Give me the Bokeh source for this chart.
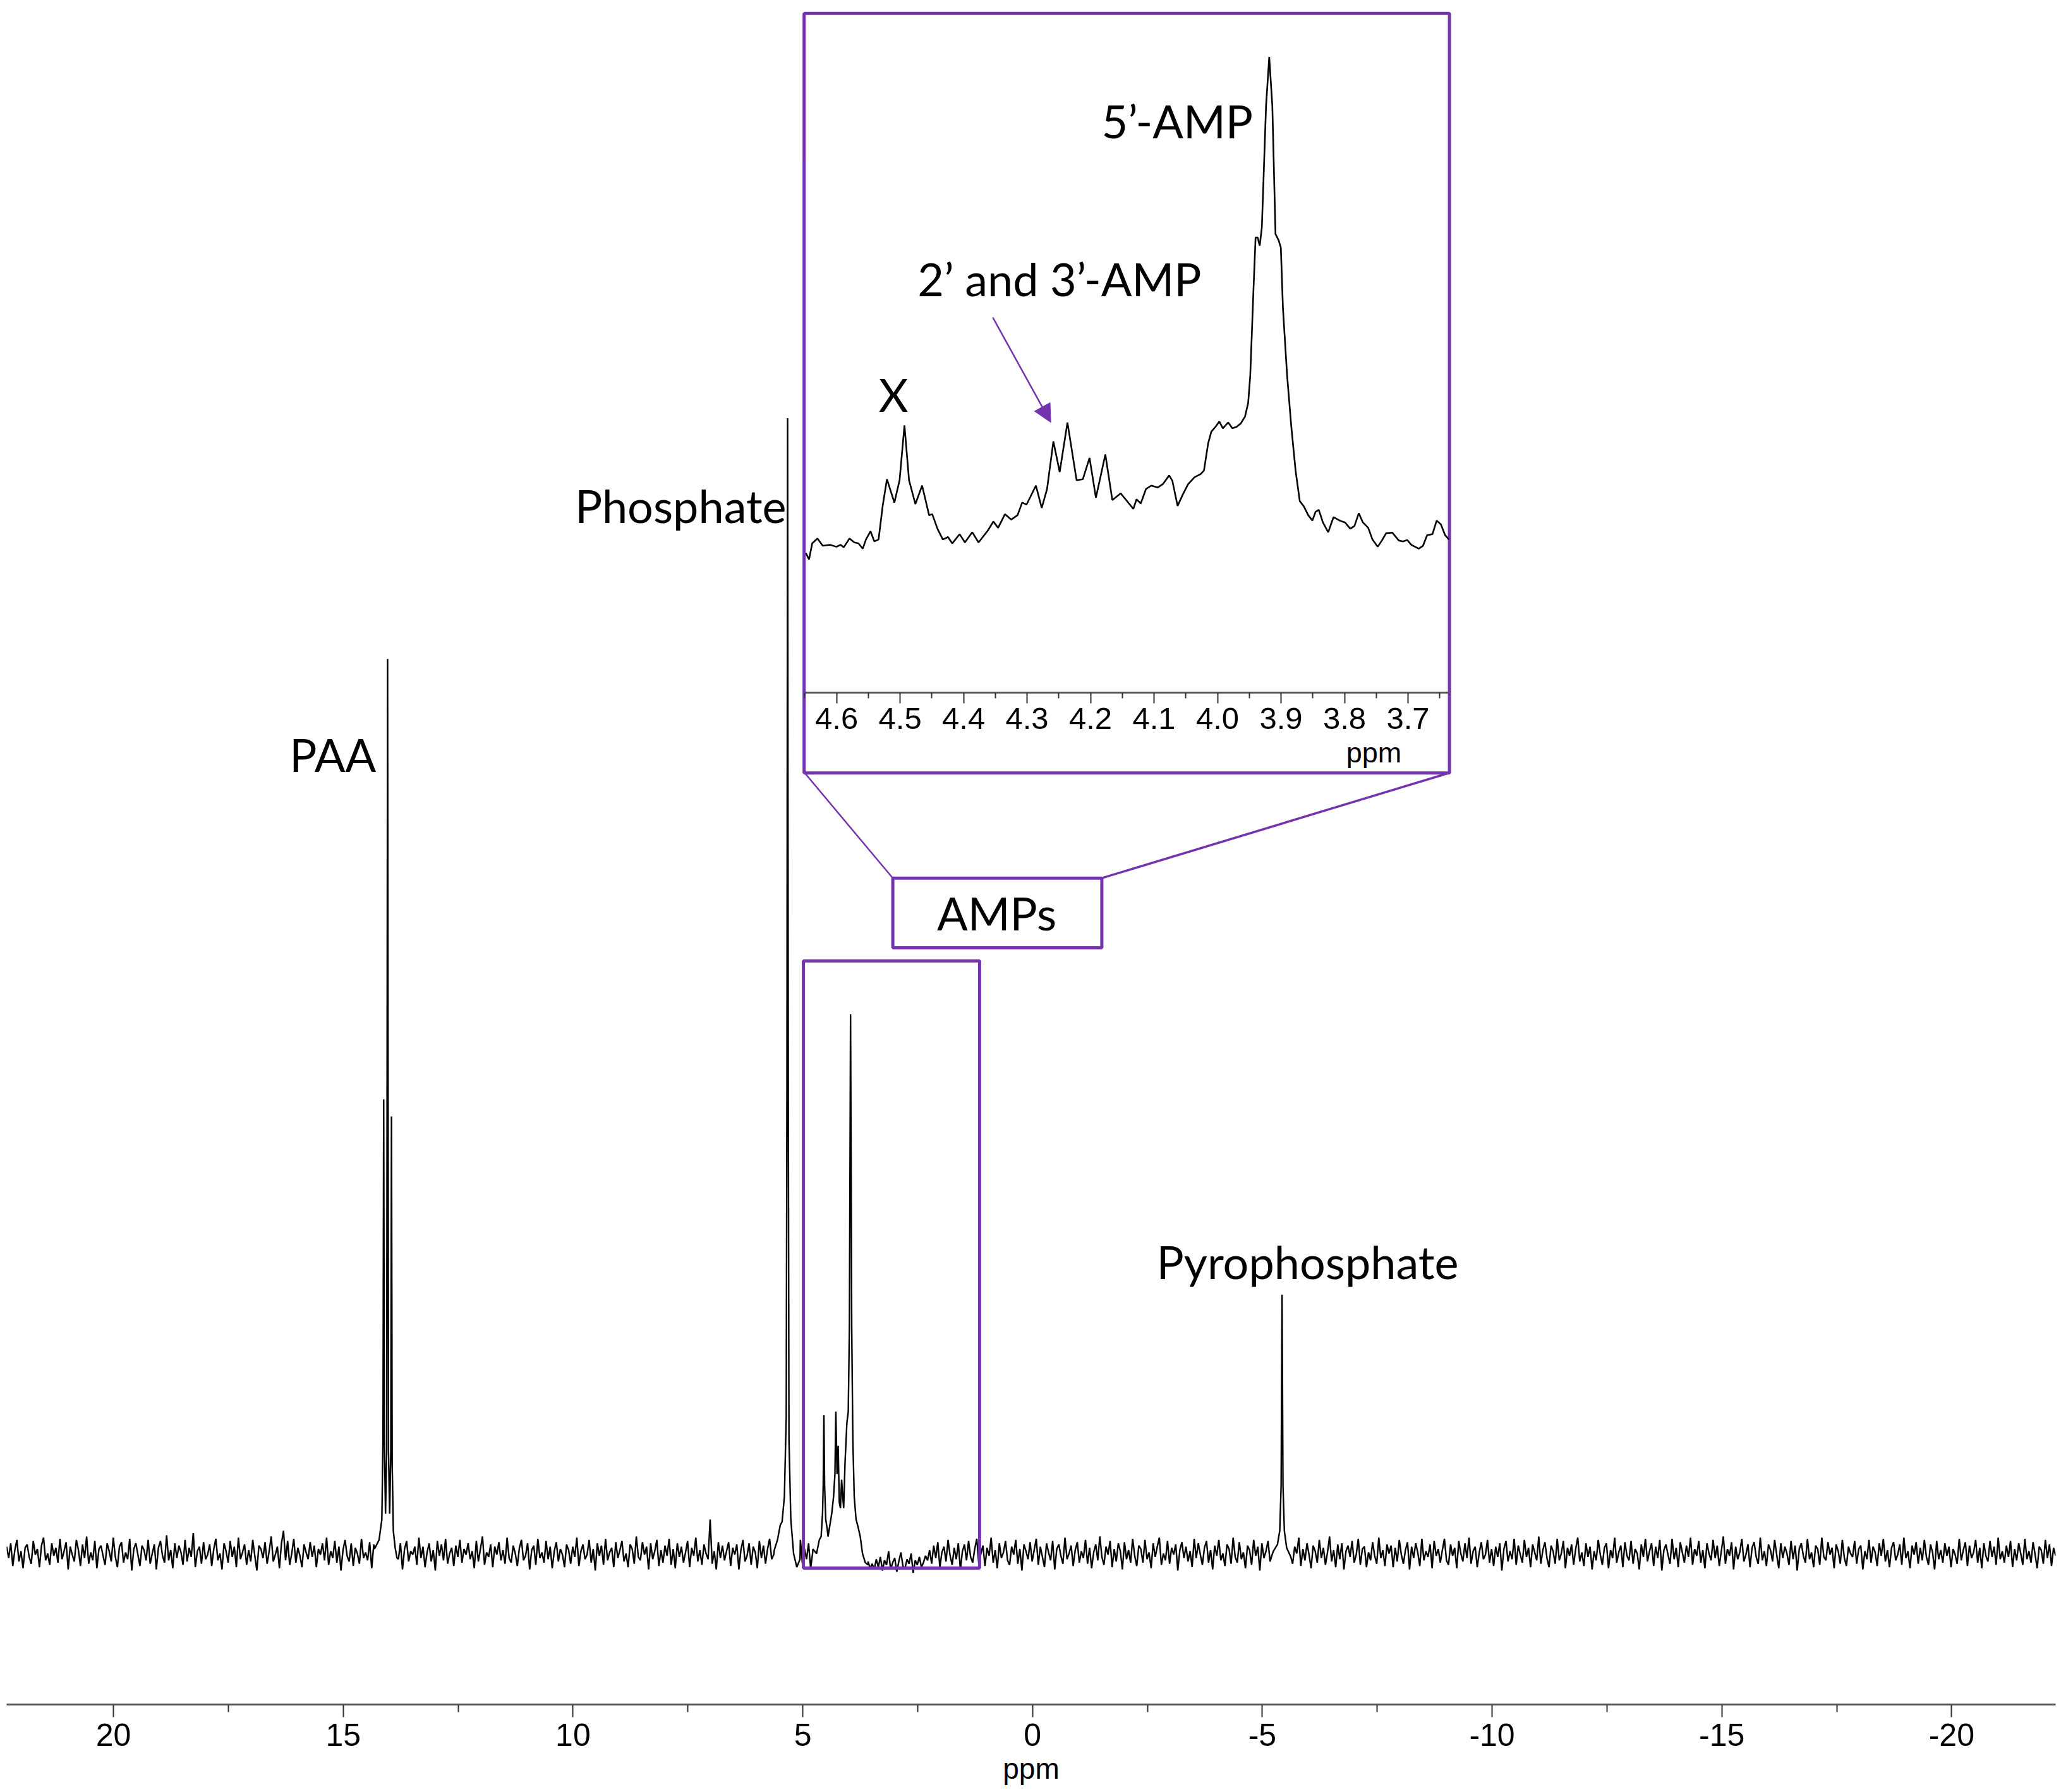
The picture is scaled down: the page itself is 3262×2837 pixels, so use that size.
import numpy as np
from bokeh.plotting import figure
from bokeh.models import (Range1d, LinearAxis, FixedTicker, PrintfTickFormatter,
                          Label, Arrow, NormalHead)
from bokeh.embed import file_html
from bokeh.resources import INLINE

# ------------------------------------------------------------------ data
main_ticks = [20, 15, 10, 5, 0, -5, -10, -15, -20]
main_minor_ticks = [17.5, 12.5, 7.5, 2.5, -2.5, -7.5, -12.5, -17.5]
inset_ticks = [4.6, 4.5, 4.4, 4.3, 4.2, 4.1, 4.0, 3.9, 3.8, 3.7]
inset_minor_ticks = [4.65, 4.55, 4.45, 4.35, 4.25, 4.15, 4.05, 3.95, 3.85, 3.75, 3.65]

# main spectrum: resolved peaks (ppm, intensity relative to phosphate = 1)
paa_ppm = [14.32, 14.22, 14.16, 14.135, 14.12, 14.105, 14.08, 14.055, 14.035, 14.015,
           13.99, 13.965, 13.95, 13.935, 13.91, 13.87, 13.83]
paa_int = [0.004, 0.012, 0.03, 0.10, 0.40, 0.10, 0.035, 0.09, 0.788, 0.09,
           0.035, 0.09, 0.385, 0.08, 0.02, 0.005, -0.004]

phos_ppm = [5.62, 5.55, 5.49, 5.45, 5.40, 5.36, 5.345, 5.33, 5.315, 5.30, 5.26, 5.20, 5.13, 5.06]
phos_int = [0.003, 0.012, 0.025, 0.028, 0.05, 0.12, 0.40, 1.0, 0.40, 0.10, 0.03, 0.0, -0.012, -0.005]

amp_ppm = [4.78, 4.70, 4.64, 4.60, 4.57, 4.555, 4.54, 4.525, 4.50, 4.47, 4.45, 4.41, 4.37,
           4.33, 4.30, 4.28, 4.255, 4.23, 4.205, 4.18, 4.155, 4.13, 4.11, 4.08, 4.04, 4.01,
           3.985, 3.96, 3.935, 3.91, 3.88, 3.84, 3.80, 3.75, 3.70, 3.64, 3.58]
amp_int = [0.004, 0.0, 0.012, 0.015, 0.035, 0.06, 0.122, 0.06, 0.03, 0.022, 0.015, 0.025, 0.035,
           0.05, 0.07, 0.125, 0.07, 0.095, 0.045, 0.04, 0.065, 0.05, 0.04, 0.08, 0.115, 0.125,
           0.20, 0.475, 0.20, 0.10, 0.05, 0.03, 0.024, 0.015, 0.0, -0.008, -0.01]

pyro_ppm = [-5.24, -5.33, -5.38, -5.41, -5.43, -5.45, -5.48, -5.53, -5.62]
pyro_int = [0.002, 0.008, 0.02, 0.06, 0.228, 0.06, 0.02, 0.005, -0.003]

# baseline noise (units of 0.001), left (22.3 ppm) to right (-22.3 ppm)
noise_milli = [
 6,-4,9,-11,3,12,-7,2,-13,5,8,-3,-9,11,-1,4,-12,7,14,-6,0,-10,9,-2,5,
 -8,13,-5,2,10,-14,6,-1,-7,12,3,-11,8,-4,15,-9,1,-6,11,-13,4,7,-2,-10,9,
 2,-7,14,-3,-12,6,10,-8,1,-5,13,-15,4,9,-1,-11,7,3,-6,12,-9,0,8,-14,5,
 11,-2,-8,16,-6,3,-13,9,-4,7,1,-10,12,-7,5,-3,18,-12,2,6,-9,10,-5,-1,8,
 -11,4,13,-6,0,-14,9,2,-8,11,-3,6,-12,14,-5,1,8,-10,3,-7,12,-2,-15,7,4,
 -4,10,-9,2,15,-7,-1,6,-13,9,20,-6,11,-10,0,13,-8,5,-2,-12,8,1,-5,10,-3,
 7,-12,4,-1,9,-6,14,-10,2,-4,11,-8,6,-15,3,12,-2,-7,9,-11,5,0,-9,13,-4,
 1,-6,10,-13,8,-3,5,-9,16,-2,-11,7,0,12,-8,3,-5,9,-14,4,11,-7,2,-1,6,
 -10,14,-4,6,-12,1,9,-7,3,-15,11,-2,8,-6,13,-9,0,5,-11,7,-3,12,-8,4,-1,
 9,-5,2,-13,11,-7,4,15,-10,1,-3,8,-12,6,-1,10,-6,3,-9,14,-4,-8,7,0,-11,
 5,12,-6,-2,9,-14,3,7,-10,13,-4,1,-8,11,-5,6,-13,2,10,-7,4,-1,-12,8,3,
 -9,6,-3,14,-11,2,8,-5,-1,12,-8,4,-15,9,-2,7,-10,13,-6,1,5,-12,10,-4,3,
 11,-7,0,-12,8,4,-9,15,-3,-6,10,-1,6,-14,9,-5,2,12,-11,3,-8,7,-2,13,-10,
 4,-13,9,-3,6,-8,1,11,-12,5,-2,14,-7,3,-10,8,0,-5,30,-9,2,-14,10,-4,7,
 -6,2,10,-11,5,-1,8,-14,3,12,-7,-2,9,-10,6,1,-13,11,-4,7,-9,4,13,-5,-1,
 8,-12,3,-6,14,-8,2,10,-3,-11,6,-1,12,-9,4,-5,9,-13,1,7,-4,11,-7,0,5,
 -10,13,-2,6,-8,3,11,-14,4,-1,9,-6,2,-12,8,5,-9,1,12,-4,-7,-13,-9,-14,-5,
 -12,-3,-15,-6,-10,2,-14,-8,-4,-16,-7,1,-11,-13,-5,-9,0,-17,-6,-10,-3,-12,-8,-2,-6,
 3,-9,7,-4,10,-12,1,6,-7,12,-2,-10,5,-5,9,-14,2,8,-6,11,-3,-8,4,13,-9,
 0,7,-11,5,-2,14,-8,3,-13,9,-4,1,11,-6,-10,6,-1,12,-9,4,-15,8,2,-5,10,
 -7,3,13,-10,6,-3,-12,9,1,-6,11,-14,4,8,-2,-9,14,-5,0,7,-11,3,10,-8,2,
 -4,12,-9,5,-13,1,8,-6,15,-3,-10,6,-1,11,-12,4,-7,9,2,-14,10,-5,3,-8,13,
 -2,-11,7,4,-8,12,-5,1,-13,9,-3,6,14,-10,0,-6,11,-9,5,-1,8,-15,3,10,-4,
 6,-7,2,-12,13,-4,9,-1,-10,5,11,-8,3,-14,7,-2,12,-6,0,-11,8,4,-9,14,-3,
 -8,10,-5,1,-13,7,3,-10,12,-2,6,-15,9,-4,2,11,-7,-1,13,-9,5,-6,8,-12,4,
 11,-3,-9,6,0,14,-11,4,-6,9,-1,-13,7,2,-8,12,-4,5,-10,1,15,-7,3,-12,8,
 -5,9,-14,2,7,-3,11,-8,-1,13,-10,4,6,-12,1,-6,10,-2,-9,14,-4,3,-11,8,0,
 7,-12,5,-7,12,-1,-9,3,10,-14,6,-4,9,1,-11,13,-6,2,-3,8,-13,11,-2,4,-8,
 3,13,-6,-10,8,-2,5,-13,11,0,-7,9,-4,14,-9,2,6,-12,1,10,-5,-1,12,-8,4,
 -11,6,-3,9,-15,4,11,-7,2,-5,13,-10,7,-1,-8,12,-3,5,-12,8,1,-6,15,-9,3,
 10,-4,-12,7,2,-9,13,-6,0,11,-13,5,-2,8,-10,4,14,-7,1,-11,9,-3,6,-14,2,
 -6,12,-1,-10,5,9,-13,3,-4,14,-8,1,7,-12,10,-2,-6,11,-9,4,0,-14,8,-3,13,
 -7,2,9,-11,6,-4,12,-15,3,8,-1,-9,13,-5,5,-12,10,1,-8,7,-3,14,-10,4,-2,
 11,-8,3,-13,9,0,-6,12,-4,7,-11,2,15,-9,4,-2,10,-14,6,-5,1,13,-7,-1,8,
 -12,5,10,-3,-9,14,-6,2,-11,8,3,-7,12,-1,-13,9,-4,6,0,-10,11,-5,7,-15,4,
 9,-2,-8,13,-5,1,-12,7,4,-10,14,-3,-6,10,-1,5,-13,8,2,-9,12,-4,-11,6,0,
 -3,11,-9,4,7,-14,2,-5,12,-8,6,1,-11,9,-2,13,-7,3,-12,5,10,-6,-1,8,-10,
 14,-4,2,-13,7,-1,10,-9,5,-6,12,-3,-10,8,1,-14,11,-5,3,-8,9,-2,6,-12,4,
 -1,-9,13,-6,3,10,-11,7,-4,1,12,-8,5,-13,9,-2,-7,11,-3,6,-10,14,-5,2,-8,
 7,-3,11,-12,4,-6,9,0,-10,13,-5,2,-8,10,-1,-13,6,3,-9,12,-4,8,-11,5,-2,
]

# inset (expanded 4.65 - 3.63 ppm), intensity relative to the 5'-AMP maximum
inset_ppm = [
 4.6484, 4.6434, 4.6384, 4.6302, 4.6218, 4.6103, 4.6003, 4.5936, 4.5887, 4.5797,
 4.5720, 4.5655, 4.5588, 4.5538, 4.5466, 4.5406, 4.5339, 4.5273, 4.5207, 4.5090,
 4.5008, 4.4931, 4.4859, 4.4759, 4.4653, 4.4543, 4.4493, 4.4411, 4.4327, 4.4245,
 4.4178, 4.4062, 4.3979, 4.3863, 4.3764, 4.3615, 4.3531, 4.3456, 4.3349, 4.3250,
 4.3150, 4.3077, 4.3008, 4.2951, 4.2861, 4.2769, 4.2685, 4.2586, 4.2486, 4.2364,
 4.2220, 4.2122, 4.2016, 4.1916, 4.1767, 4.1657, 4.1525, 4.1326, 4.1276, 4.1210,
 4.1127, 4.1043, 4.0944, 4.0861, 4.0762, 4.0712, 4.0629, 4.0546, 4.0463, 4.0364,
 4.0264, 4.0214, 4.0148, 4.0098, 4.0032, 3.9972, 3.9916, 3.9833, 3.9767, 3.9700,
 3.9634, 3.9568, 3.9518, 3.9485, 3.9435, 3.9401, 3.9368, 3.9336, 3.9302, 3.9236,
 3.9186, 3.9137, 3.9087, 3.9037, 3.9003, 3.8970, 3.8904, 3.8838, 3.8771, 3.8705,
 3.8640, 3.8572, 3.8506, 3.8456, 3.8406, 3.8340, 3.8257, 3.8174, 3.8075, 3.7992,
 3.7909, 3.7843, 3.7776, 3.7710, 3.7627, 3.7560, 3.7478, 3.7411, 3.7345, 3.7246,
 3.7146, 3.7080, 3.7013, 3.6947, 3.6831, 3.6764, 3.6699, 3.6615, 3.6549, 3.6482,
 3.6416, 3.6356]
inset_int = [
 -0.022, -0.035, -0.002, 0.008, -0.007, -0.005, -0.009, -0.005, -0.010, 0.008,
 0.000, -0.002, -0.013, 0.006, 0.023, 0.002, 0.006, 0.076, 0.130, 0.082,
 0.128, 0.241, 0.128, 0.079, 0.117, 0.056, 0.058, 0.028, 0.006, 0.011,
 -0.002, 0.017, 0.000, 0.021, 0.000, 0.025, 0.043, 0.030, 0.058, 0.047,
 0.056, 0.082, 0.078, 0.093, 0.117, 0.071, 0.110, 0.208, 0.145, 0.247,
 0.128, 0.130, 0.174, 0.092, 0.181, 0.087, 0.101, 0.069, 0.089, 0.080,
 0.110, 0.117, 0.113, 0.120, 0.138, 0.127, 0.075, 0.099, 0.120, 0.134,
 0.141, 0.148, 0.204, 0.228, 0.238, 0.249, 0.235, 0.247, 0.235, 0.238,
 0.245, 0.259, 0.287, 0.343, 0.517, 0.628, 0.628, 0.611, 0.649, 0.899,
 1.000, 0.899, 0.635, 0.622, 0.607, 0.482, 0.343, 0.238, 0.148, 0.085,
 0.074, 0.056, 0.045, 0.063, 0.067, 0.041, 0.021, 0.052, 0.045, 0.041,
 0.028, 0.034, 0.060, 0.041, 0.030, 0.006, -0.009, 0.004, 0.019, 0.020,
 0.004, 0.002, 0.005, -0.005, -0.013, -0.007, 0.015, 0.017, 0.045, 0.037,
 0.015, 0.006]

# ------------------------------------------------------------------ geometry (figure pixels)
W, H = 3254, 2829
FL, FR, FT, FB = 10, 3253, 0, 2698
X0, X1 = 22.325, -22.264        # main ppm range (left, right)
Y0, Y1 = -0.133, 1.3681         # main intensity range (bottom, top)

def px2x(px):
    return X0 + (px - FL) / (FR - FL) * (X1 - X0)

def py2y(py):
    return Y1 - (py - FT) / (FB - FT) * (Y1 - Y0)

# inset scale: 4.6 ppm at px 1323.6, 1004.9 px per ppm; intensity 0 at py 858.2, 1 at py 89.5
def ix(px):
    return 4.6 - (px - 1323.6) / 1004.9

def iy(py):
    return (858.2 - py) / (858.2 - 89.5)

PURPLE = "#7434AE"
LABEL_FONT = "Lato"
LABEL_SIZE = "72px"
TICK_FONT = "Liberation Sans"

p = figure(width=W, height=H, output_backend="svg", toolbar_location=None,
           x_range=Range1d(X0, X1), y_range=Range1d(Y0, Y1),
           min_border_left=FL, min_border_right=W - FR, min_border_top=0,
           min_border_bottom=H - FB)
p.extra_x_ranges = {"inset": Range1d(ix(FL), ix(FR))}
p.extra_y_ranges = {"inset_y": Range1d(iy(FB), iy(FT))}
p.outline_line_color = None
p.grid.visible = False
p.yaxis.visible = False
p.background_fill_color = "white"
p.border_fill_color = "white"

# main axis
ax = p.xaxis[0]
ax.ticker = FixedTicker(ticks=main_ticks, minor_ticks=main_minor_ticks)
ax.formatter = PrintfTickFormatter(format="%d")
ax.axis_line_width = 3
ax.axis_line_color = "#555555"
ax.major_tick_line_color = "#333333"
ax.major_tick_line_width = 2
ax.major_tick_in = 0
ax.major_tick_out = 20
ax.minor_tick_line_color = "#333333"
ax.minor_tick_line_width = 2
ax.minor_tick_in = 0
ax.minor_tick_out = 12
ax.major_label_text_font = TICK_FONT
ax.major_label_text_font_size = "50px"
ax.major_label_text_color = "black"
ax.major_label_standoff = 10
ax.axis_label = "ppm"
ax.axis_label_text_font = TICK_FONT
ax.axis_label_text_font_size = "46px"
ax.axis_label_text_font_style = "normal"
ax.axis_label_text_color = "black"
ax.axis_label_standoff = 7

# ------------------------------------------------------------------ main spectrum
noise = np.array(noise_milli, dtype=float) / 1000.0
grid = np.linspace(X0, X1, len(noise))
peaks = [(paa_ppm, paa_int), (phos_ppm, phos_int), (amp_ppm, amp_int), (pyro_ppm, pyro_int)]
keep = np.ones(len(grid), dtype=bool)
for xs, ys in peaks:
    keep &= ~((grid <= max(xs)) & (grid >= min(xs)))
sx = np.concatenate([grid[keep]] + [np.array(xs, dtype=float) for xs, _ in peaks])
sy = np.concatenate([noise[keep]] + [np.array(ys, dtype=float) for _, ys in peaks])
order = np.argsort(-sx)
p.line(sx[order], sy[order], line_color="black", line_width=2.4)

# main AMP region box
p.quad(left=[px2x(1271.1)], right=[px2x(1549.9)], top=[py2y(1520.8)], bottom=[py2y(2481.9)],
       fill_color=None, line_color=PURPLE, line_width=5)

# connector lines from inset to AMPs box
p.segment(x0=[px2x(1273.2), px2x(2292.6)], y0=[py2y(1223.3), py2y(1223.3)],
          x1=[px2x(1412.6), px2x(1743.4)], y1=[py2y(1389.7), py2y(1389.7)],
          line_color=PURPLE, line_width=[2.5, 3.5])

# AMPs label box
p.quad(left=[px2x(1412.6)], right=[px2x(1743.4)], top=[py2y(1389.7)], bottom=[py2y(1500.0)],
       fill_color="white", line_color=PURPLE, line_width=5)

# inset frame
p.quad(left=[px2x(1272.2)], right=[px2x(2293.6)], top=[py2y(20.8)], bottom=[py2y(1223.3)],
       fill_color="white", line_color=PURPLE, line_width=5)

# inset spectrum
p.line(inset_ppm, inset_int, x_range_name="inset", y_range_name="inset_y",
       line_color="black", line_width=2.6)

# inset axis
iax = LinearAxis(x_range_name="inset", fixed_location=py2y(1096.4),
                 bounds=(ix(2293.6), ix(1272.2)),
                 ticker=FixedTicker(ticks=inset_ticks, minor_ticks=inset_minor_ticks),
                 formatter=PrintfTickFormatter(format="%.1f"))
iax.axis_line_width = 3
iax.axis_line_color = "#555555"
iax.major_tick_line_color = "#333333"
iax.major_tick_line_width = 2
iax.major_tick_in = 0
iax.major_tick_out = 17
iax.minor_tick_line_color = "#333333"
iax.minor_tick_line_width = 2
iax.minor_tick_in = 0
iax.minor_tick_out = 9
iax.major_label_text_font = TICK_FONT
iax.major_label_text_font_size = "49px"
iax.major_label_text_color = "black"
iax.major_label_standoff = 7
p.add_layout(iax, "below")

def add_text(text, px, py, align, font, size):
    p.add_layout(Label(x=px2x(px), y=py2y(py), text=text, text_font=font,
                       text_font_size=size, text_align=align,
                       text_baseline="middle", text_color="black"))

# inset axis title
add_text("ppm", 2174, 1190.8, "center", TICK_FONT, "45px")

# peak labels
add_text("PAA", 526.3, 1193.1, "center", LABEL_FONT, LABEL_SIZE)
add_text("Phosphate", 1244.1, 799.9, "right", LABEL_FONT, LABEL_SIZE)
add_text("Pyrophosphate", 2069.0, 1996.1, "center", LABEL_FONT, LABEL_SIZE)
add_text("5\u2019-AMP", 1982.6, 190.4, "right", LABEL_FONT, LABEL_SIZE)
add_text("2\u2019 and 3\u2019-AMP", 1676.8, 440.0, "center", LABEL_FONT, LABEL_SIZE)
add_text("X", 1413.6, 623.1, "center", LABEL_FONT, LABEL_SIZE)
add_text("AMPs", 1577.0, 1444.8, "center", LABEL_FONT, LABEL_SIZE)

# arrow to 2' and 3'-AMP
p.add_layout(Arrow(end=NormalHead(size=28, fill_color=PURPLE, line_color=PURPLE),
                   x_start=px2x(1570.8), y_start=py2y(502.0),
                   x_end=px2x(1662.7), y_end=py2y(668.3),
                   line_color=PURPLE, line_width=2.5))

open("out.html", "w").write(file_html(p, INLINE))
